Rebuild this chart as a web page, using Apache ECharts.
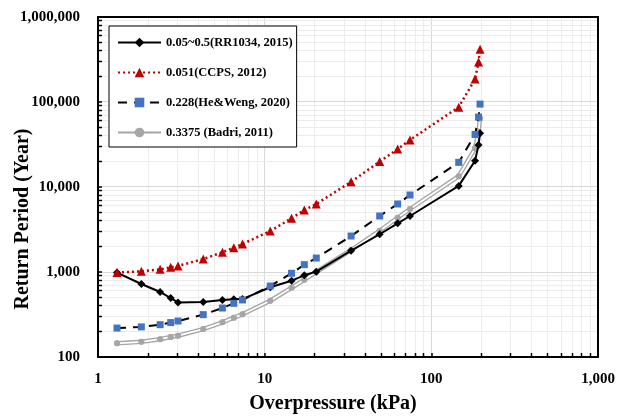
<!DOCTYPE html>
<html>
<head>
<meta charset="utf-8">
<script src="https://cdn.jsdelivr.net/npm/echarts@6/dist/echarts.min.js"></script>
<style>
html, body { margin: 0; padding: 0; background: #fff; }
#chart { width: 624px; height: 416px; }
</style>
</head>
<body>
<div id="chart"></div>
<script>
// Overpressure (kPa) at which each return period was evaluated
const overpressure = [1.3, 1.82, 2.36, 2.73, 3.02, 4.28, 5.58, 6.53, 7.36, 10.8, 14.5, 17.3, 20.4, 33, 49, 62.8, 74.5, 146, 183, 192, 196];

// Return period (years) for each vulnerability assumption
const rr1034 = [985, 722, 582, 494, 438, 445, 469, 477, 480, 661, 790, 914, 1010, 1780, 2780, 3740, 4560, 10300, 20400, 31200, 43000];
const ccps   = [985, 1020, 1075, 1136, 1177, 1420, 1706, 1930, 2135, 3030, 4290, 5360, 6310, 11500, 19900, 27900, 35800, 87000, 186000, 296000, 417000];
const heWeng = [219, 226, 240, 254, 265, 315, 377, 428, 469, 684, 966, 1220, 1460, 2650, 4560, 6310, 8050, 19500, 41500, 66500, 94500];
const badri  = [145, 151, 162, 172, 178, 213, 256, 290, 318, 459, 653, 811, 1000, 1815, 3060, 4350, 5510, 13400, 28500, 44700, 64000];

const seriesNames = ['0.05~0.5(RR1034, 2015)', '0.051(CCPS, 2012)', '0.228(He&Weng, 2020)', '0.3375 (Badri, 2011)'];

// Axis ranges and tick positions
const xMajor = [1, 10, 100, 1000];
const yMajor = [100, 1000, 10000, 100000, 1000000];
const xMinor = [2, 3, 4, 5, 6, 7, 8, 9, 20, 30, 40, 50, 60, 70, 80, 90, 200, 300, 400, 500, 600, 700, 800, 900];
const yMinor = [200, 300, 400, 500, 600, 700, 800, 900,
                2000, 3000, 4000, 5000, 6000, 7000, 8000, 9000,
                20000, 30000, 40000, 50000, 60000, 70000, 80000, 90000,
                200000, 300000, 400000, 500000, 600000, 700000, 800000, 900000];

const X_MIN = xMajor[0], X_MAX = xMajor[xMajor.length - 1];
const Y_MIN = yMajor[0], Y_MAX = yMajor[yMajor.length - 1];

const serif = 'Liberation Serif, Times New Roman, serif';
const pairs = arr => overpressure.map((x, i) => [x, arr[i]]);
const crisp = v => Math.round(v - 0.5) + 0.5;

// Gridlines (major + minor) and minor ticks, placed through the axis scales
function gridSeries(isX) {
  const data = isX
    ? xMajor.concat(xMinor).map(v => [v, Y_MIN, xMajor.includes(v) ? 1 : 0])
    : yMajor.concat(yMinor).map(v => [X_MIN, v, yMajor.includes(v) ? 1 : 0]);
  return {
    type: 'custom',
    silent: true,
    z: 1,
    clip: false,
    data: data,
    renderItem: function (params, api) {
      const v = api.value(isX ? 0 : 1);
      const major = api.value(2) === 1;
      const p0 = isX ? api.coord([v, Y_MIN]) : api.coord([X_MIN, v]);
      const p1 = isX ? api.coord([v, Y_MAX]) : api.coord([X_MAX, v]);
      const children = [];
      if (isX) {
        const x = crisp(p0[0]);
        children.push({ type: 'line', shape: { x1: x, y1: p0[1], x2: x, y2: p1[1] },
          style: { stroke: major ? '#d9d9d9' : '#ececec', lineWidth: 1 } });
        if (!major) children.push({ type: 'line', shape: { x1: x, y1: p0[1], x2: x, y2: p0[1] - 4 },
          style: { stroke: '#000', lineWidth: 1.5 } });
      } else {
        const y = crisp(p0[1]);
        children.push({ type: 'line', shape: { x1: p0[0], y1: y, x2: p1[0], y2: y },
          style: { stroke: major ? '#d9d9d9' : '#ececec', lineWidth: 1 } });
        if (!major) children.push({ type: 'line', shape: { x1: p0[0], y1: y, x2: p0[0] + 4, y2: y },
          style: { stroke: '#000', lineWidth: 1.5 } });
      }
      return { type: 'group', children: children };
    }
  };
}

const fmt = v => Math.round(v).toLocaleString('en-US');

const frameAxis = (pos) => ({
  type: 'log', logBase: 10, position: pos, z: 10,
  axisLine: { show: true, onZero: false, lineStyle: { color: '#000', width: 2 } },
  axisTick: { show: false }, axisLabel: { show: false }, splitLine: { show: false }
});

const chart = echarts.init(document.getElementById('chart'), null, { renderer: 'canvas' });
chart.setOption({
  animation: false,
  backgroundColor: '#fff',
  grid: { left: 98, right: 26, top: 17, bottom: 59, containLabel: false, outerBoundsMode: 'none' },
  legend: {
    data: seriesNames,
    orient: 'vertical',
    left: 109, top: 26,
    padding: [10, 4, 8, 8],
    itemGap: 17,
    itemWidth: 43, itemHeight: 12,
    backgroundColor: '#fff',
    borderColor: '#000', borderWidth: 1,
    z: 20,
    textStyle: { fontFamily: serif, fontWeight: 'bold', fontSize: 12.5, color: '#000' }
  },
  xAxis: [
    Object.assign({
      min: X_MIN, max: X_MAX,
      name: 'Overpressure (kPa)', nameLocation: 'middle', nameGap: 37, nameMoveOverlap: false,
      nameTextStyle: { fontFamily: serif, fontWeight: 'bold', fontSize: 20, color: '#000', padding: [0, 30, 0, 0] }
    }, frameAxis('bottom'), {
      axisTick: { show: true, inside: true, length: 4, lineStyle: { color: '#000', width: 1.5 } },
      axisLabel: { show: true, formatter: fmt, margin: 15, fontFamily: serif, fontWeight: 'bold', fontSize: 15, color: '#000' }
    }),
    Object.assign({ min: X_MIN, max: X_MAX }, frameAxis('top'))
  ],
  yAxis: [
    Object.assign({
      min: Y_MIN, max: Y_MAX,
      name: 'Return Period (Year)', nameLocation: 'middle', nameGap: 65, nameMoveOverlap: false,
      nameTextStyle: { fontFamily: serif, fontWeight: 'bold', fontSize: 20, color: '#000', padding: [0, 64, 0, 0] }
    }, frameAxis('left'), {
      axisTick: { show: true, inside: true, length: 4, lineStyle: { color: '#000', width: 1.5 } },
      axisLabel: { show: true, formatter: fmt, margin: 18, fontFamily: serif, fontWeight: 'bold', fontSize: 15, color: '#000' }
    }),
    Object.assign({ min: Y_MIN, max: Y_MAX }, frameAxis('right'))
  ],
  series: [
    gridSeries(true),
    gridSeries(false),
    {
      name: seriesNames[3], type: 'line', z: 3, data: pairs(badri),
      symbol: 'circle', symbolSize: 6,
      itemStyle: { color: '#a6a6a6' },
      lineStyle: { color: '#a6a6a6', width: 4.5 }
    },
    {
      name: 'badri-core', type: 'line', z: 3, data: pairs(badri), silent: true,
      symbol: 'none', lineStyle: { color: '#fff', width: 1.8 }
    },
    {
      name: 'badri-points', type: 'scatter', z: 3, data: pairs(badri), silent: true,
      symbol: 'circle', symbolSize: 6, itemStyle: { color: '#a6a6a6' }
    },
    {
      name: seriesNames[0], type: 'line', z: 4, data: pairs(rr1034),
      symbol: 'diamond', symbolSize: 8,
      itemStyle: { color: '#000' },
      lineStyle: { color: '#000', width: 2 }
    },
    {
      name: seriesNames[2], type: 'line', z: 5, data: pairs(heWeng),
      symbol: 'rect', symbolSize: 7,
      itemStyle: { color: '#4472c4' },
      lineStyle: { color: '#000', width: 2, type: [9, 7] }
    },
    {
      name: seriesNames[1], type: 'line', z: 6, data: pairs(ccps),
      symbol: 'triangle', symbolSize: 9,
      itemStyle: { color: '#c00000' },
      lineStyle: { color: '#c00000', width: 2.5, type: [2, 3] }
    }
  ]
});
</script>
</body>
</html>
